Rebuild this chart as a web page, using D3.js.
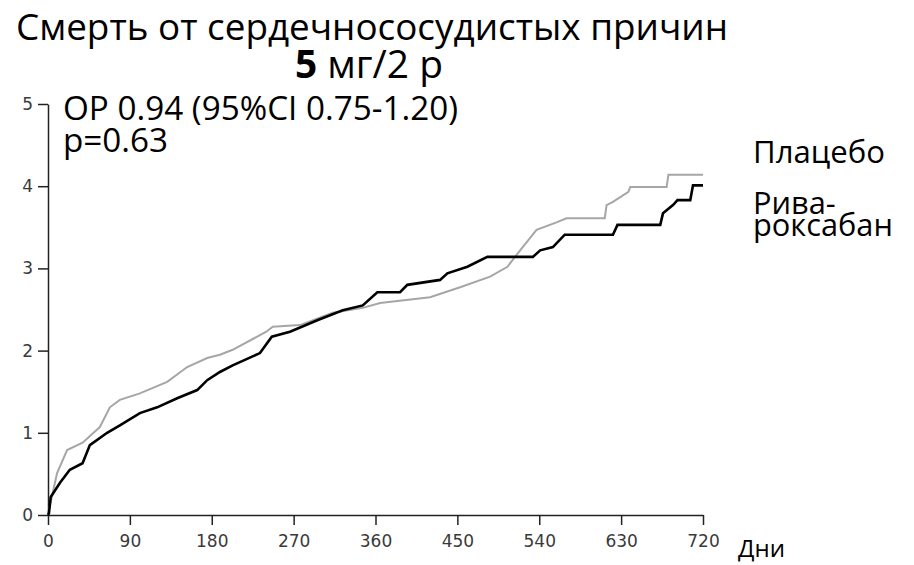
<!DOCTYPE html>
<html>
<head>
<meta charset="utf-8">
<script src="https://cdn.jsdelivr.net/npm/d3@7"></script>
<style>
  body { margin: 0; background: #fff; }
  svg { display: block; }
</style>
</head>
<body>
<svg id="chart" width="914" height="565"></svg>
<script>
// cumulative event rate, %
var rivaDays = [0, 1, 3, 13, 24, 38, 46, 65, 79, 101, 120, 142, 164, 175, 189, 203, 233, 246, 266, 296, 324, 346, 362, 387, 395, 431, 439, 461, 483, 533, 541, 555, 568, 621, 626, 673, 676, 687, 692, 706, 709, 720];
var rivaRisk = [0, 0.02, 0.22, 0.39, 0.55, 0.63, 0.85, 1.00, 1.09, 1.24, 1.31, 1.42, 1.52, 1.64, 1.74, 1.82, 1.97, 2.17, 2.23, 2.37, 2.49, 2.55, 2.71, 2.71, 2.80, 2.86, 2.94, 3.02, 3.14, 3.14, 3.22, 3.26, 3.41, 3.41, 3.53, 3.53, 3.67, 3.77, 3.83, 3.83, 4.01, 4.01];
var placDays = [0, 1, 10, 21, 38, 57, 68, 79, 101, 131, 153, 175, 189, 203, 240, 247, 277, 313, 346, 365, 420, 453, 486, 505, 519, 537, 559, 570, 612, 614, 621, 638, 640, 680, 682, 720];
var placRisk = [0, 0.06, 0.51, 0.79, 0.88, 1.07, 1.31, 1.40, 1.48, 1.62, 1.80, 1.91, 1.95, 2.01, 2.23, 2.29, 2.31, 2.46, 2.52, 2.58, 2.65, 2.77, 2.90, 3.02, 3.22, 3.47, 3.56, 3.61, 3.61, 3.77, 3.81, 3.93, 3.99, 3.99, 4.14, 4.14];
var xTicks = [0, 90, 180, 270, 360, 450, 540, 630, 720];
var yTicks = [0, 1, 2, 3, 4, 5];

var svg = d3.select("#chart");
var font = "'Open Sans', 'Noto Sans', sans-serif";

var x = d3.scaleLinear().domain([0, 720]).range([48, 703]);
var y = d3.scaleLinear().domain([0, 5]).range([515, 104]);

// shrink/grow font so the text fills a given width
function fit(t, w) {
    var fs = parseFloat(t.attr("font-size"));
    var len = t.node().getComputedTextLength();
    t.attr("font-size", (fs * w / len).toFixed(2));
}

var xAxis = svg.append("g")
    .attr("transform", "translate(0," + y(0) + ")")
    .call(d3.axisBottom(x).tickValues(xTicks).tickSize(10).tickSizeOuter(0).tickPadding(10));
var yAxis = svg.append("g")
    .attr("transform", "translate(" + x(0) + ",0)")
    .call(d3.axisLeft(y).tickValues(yTicks).tickFormat(d3.format("d")).tickSize(10).tickSizeOuter(0).tickPadding(5));

[xAxis, yAxis].forEach(function(a) {
    a.selectAll("path, line").attr("stroke", "#222").attr("stroke-width", 1.5);
    a.selectAll("text")
        .attr("font-family", "'DejaVu Sans', sans-serif")
        .attr("font-size", 17)
        .attr("fill", "#3a3a3a");
});

var line = function(days, risk) {
    return d3.line()
        .x(function(d, i) { return x(days[i]); })
        .y(function(d, i) { return y(risk[i]); })(days);
};

svg.append("path")
    .attr("d", line(placDays, placRisk))
    .attr("fill", "none")
    .attr("stroke", "#a6a6a6")
    .attr("stroke-width", 2);
svg.append("path")
    .attr("d", line(rivaDays, rivaRisk))
    .attr("fill", "none")
    .attr("stroke", "#000")
    .attr("stroke-width", 2.6);

// titles
var t1 = svg.append("text").attr("x", 372).attr("y", 40)
    .attr("text-anchor", "middle")
    .attr("font-family", font).attr("font-size", 30)
    .text("Смерть от сердечнососудистых причин");
fit(t1, 712);

var t2 = svg.append("text").attr("x", 369).attr("y", 78)
    .attr("text-anchor", "middle")
    .attr("font-family", font).attr("font-size", 30);
t2.append("tspan").attr("font-weight", "bold").text("5");
t2.append("tspan").text(" мг/2 р");
fit(t2, 148);

var a1 = svg.append("text").attr("x", 63).attr("y", 120)
    .attr("font-family", font).attr("font-size", 24)
    .text("ОР 0.94 (95%CI 0.75-1.20)");
fit(a1, 395);
svg.append("text").attr("x", 63).attr("y", 152)
    .attr("font-family", font).attr("font-size", a1.attr("font-size"))
    .text("p=0.63");

var pl = svg.append("text").attr("x", 753).attr("y", 163)
    .attr("font-family", font).attr("font-size", 22)
    .text("Плацебо");
fit(pl, 132);

var rv2 = svg.append("text").attr("x", 753).attr("y", 236)
    .attr("font-family", font).attr("font-size", 22)
    .text("роксабан");
fit(rv2, 140);
svg.append("text").attr("x", 753).attr("y", 214)
    .attr("font-family", font).attr("font-size", rv2.attr("font-size"))
    .text("Рива-");

var dn = svg.append("text").attr("x", 738).attr("y", 557)
    .attr("font-family", font).attr("font-size", 22)
    .text("Дни");
fit(dn, 47);
</script>
</body>
</html>
